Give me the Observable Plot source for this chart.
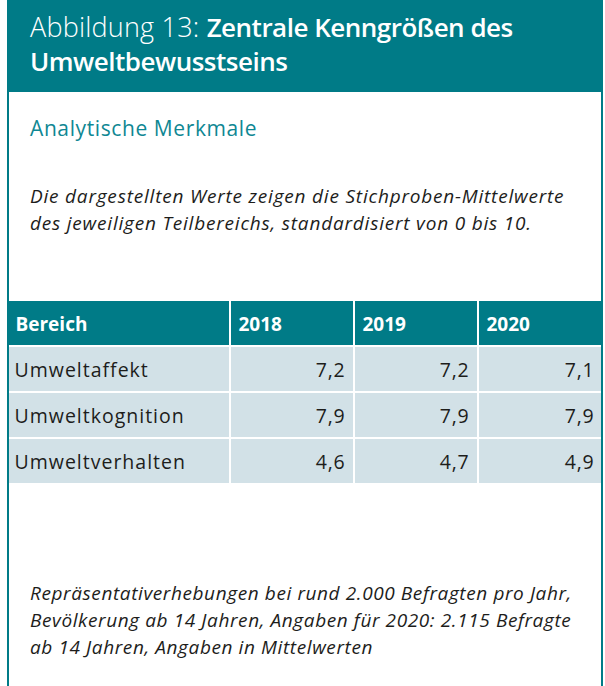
<!DOCTYPE html>
<html>
<head>
<meta charset="utf-8">
<script src="https://cdn.jsdelivr.net/npm/d3@7"></script>
<script src="https://cdn.jsdelivr.net/npm/@observablehq/plot@0.6"></script>
<style>
  html, body { margin: 0; padding: 0; background: #fff; }
  body { width: 605px; height: 686px; position: relative; overflow: hidden; font-family: "Open Sans", sans-serif; color: #1d1d1b; }
  #frame { position: absolute; left: 7px; top: 0; width: 596px; height: 686px; box-sizing: border-box; border-left: 2px solid #007b87; border-right: 2px solid #007b87; z-index: 5; pointer-events: none; }
  #head { position: absolute; left: 7px; top: 0; width: 596px; height: 92px; background: #007b87; }
  .t { position: absolute; left: 30px; white-space: nowrap; }
  #title { top: 10px; font-size: 27px; line-height: 34px; color: #fff; }
  #title .l { font-weight: 300; letter-spacing: 0.2px; }
  #title .b { font-weight: 600; font-size: 26px; letter-spacing: -0.5px; }
  #sub { top: 115px; font-size: 21px; line-height: 26px; color: #0f8793; letter-spacing: 0.6px; }
  #note { top: 183px; font-size: 19px; line-height: 27px; font-style: italic; letter-spacing: 0.8px; }
  #foot { top: 580px; font-size: 19px; line-height: 27px; font-style: italic; letter-spacing: 0.6px; }
  #tbl { position: absolute; left: 7px; top: 300px; }
</style>
</head>
<body>
<div id="head"></div>
<div class="t" id="title"><span class="l">Abbildung 13: </span><span class="b">Zentrale Kenngrößen des<br>Umweltbewusstseins</span></div>
<div class="t" id="sub">Analytische Merkmale</div>
<div class="t" id="note">Die dargestellten Werte zeigen die Stichproben-Mittelwerte<br>des jeweiligen Teilbereichs, standardisiert von 0 bis 10.</div>
<div id="tbl"></div>
<div class="t" id="foot">Repräsentativerhebungen bei rund 2.000 Befragten pro Jahr,<br>Bevölkerung ab 14 Jahren, Angaben für 2020: 2.115 Befragte<br>ab 14 Jahren, Angaben in Mittelwerten</div>
<div id="frame"></div>
<script>
// ---- data ----
const headerLabel = "Bereich";
const years = ["2018", "2019", "2020"];
const bereiche = ["Umweltaffekt", "Umweltkognition", "Umweltverhalten"];
const values2018 = [7.2, 7.9, 4.6];
const values2019 = [7.2, 7.9, 4.7];
const values2020 = [7.1, 7.9, 4.9];

// ---- layout (column width weights) ----
const colWeights = [223, 124, 124, 125];
const teal = "#007b87";
const rowFill = "#d2e1e7";

const columns = [headerLabel, ...years];
const starts = [];
let acc = 0;
for (const w of colWeights) { starts.push(acc); acc += w; }
const total = acc;

const seriesByYear = [values2018, values2019, values2020];
const fmt = v => v.toFixed(1).replace(".", ",");

const cells = [];
columns.forEach((c, j) => {
  cells.push({row: "__head", col: j, x1: starts[j], x2: starts[j] + colWeights[j], label: c, head: true});
});
bereiche.forEach((b, i) => {
  cells.push({row: b, col: 0, x1: starts[0], x2: starts[0] + colWeights[0], label: b, head: false});
  years.forEach((y, k) => {
    const j = k + 1;
    cells.push({row: b, col: j, x1: starts[j], x2: starts[j] + colWeights[j], label: fmt(seriesByYear[k][i]), head: false, value: true});
  });
});

const headCells = cells.filter(d => d.head);
const labelCells = cells.filter(d => !d.head && !d.value);
const valueCells = cells.filter(d => d.value);

const chart = Plot.plot({
  width: 596,
  height: 184,
  margin: 0,
  x: {type: "linear", domain: [0, total], range: [0, 596], axis: null},
  y: {type: "band", domain: ["__head", ...bereiche], padding: 0, axis: null},
  style: {fontFamily: "'Open Sans', sans-serif", background: "transparent"},
  marks: [
    Plot.barX(cells, {x1: "x1", x2: "x2", y: "row", fill: d => d.head ? teal : rowFill, inset: 1}),
    Plot.text(headCells, {x: "x1", y: "row", text: "label", textAnchor: "start", fill: "#fff", fontWeight: 700, fontSize: 19, dx: 8, dy: 1, lineAnchor: "middle", style: {letterSpacing: "0.2px"}}),
    Plot.text(labelCells, {x: "x1", y: "row", text: "label", textAnchor: "start", fill: "#1d1d1b", fontSize: 19.5, dx: 7, dy: 1, lineAnchor: "middle"}),
    Plot.text(valueCells, {x: "x2", y: "row", text: "label", textAnchor: "end", fill: "#1d1d1b", fontSize: 19.5, dx: -9, dy: 1, lineAnchor: "middle"})
  ]
});
chart.querySelectorAll("text").forEach(t => {
  const txt = t.textContent;
  if (bereiche.includes(txt)) t.setAttribute("letter-spacing", "1");
  else if (!columns.includes(txt)) t.setAttribute("letter-spacing", "0.8");
});
document.getElementById("tbl").appendChild(chart);
</script>
</body>
</html>
